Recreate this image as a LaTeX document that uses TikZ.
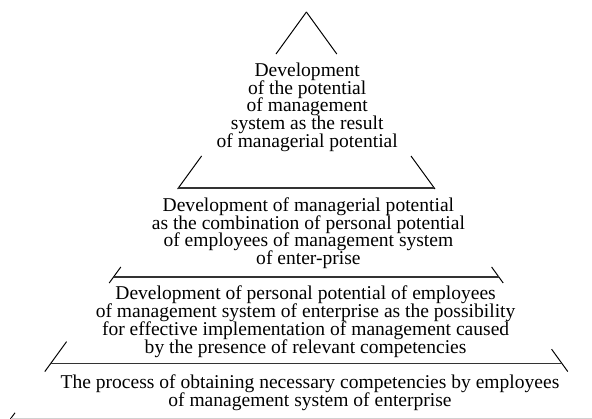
\documentclass[tikz,border=0pt]{standalone}
\usepackage{fontspec}
\setmainfont{Liberation Serif}
\newcommand\tierfont{\fontsize{13.9}{12.7}\selectfont\lineskiplimit=-20pt\relax}
\tikzset{edge/.style={draw,line width=0.7pt},
         level/.style={draw,line width=1pt,black!80},
         floor/.style={draw,line width=0.7pt,black!18},
         tier/.style={align=center,inner sep=0pt,font=\tierfont}}

\begin{document}
\begin{tikzpicture}
        \useasboundingbox (0,0) rectangle (14.8,-10.475);
        \coordinate (a) at (7.66,-0.30);
        \coordinate (l0) at (6.90,-1.35);
        \coordinate (r0) at (8.42,-1.35);
        \coordinate (l1a) at (5.04,-3.90);
        \coordinate (l1b) at (4.44,-4.725);
        \coordinate (r1a) at (10.275,-3.90);
        \coordinate (r1b) at (10.875,-4.725);
        \coordinate (l2a) at (3.02,-6.675);
        \coordinate (l2b) at (2.73,-7.075);
        \coordinate (r2a) at (12.29,-6.675);
        \coordinate (r2b) at (12.58,-7.075);
        \coordinate (l3a) at (1.665,-8.54);
        \coordinate (l3b) at (1.12,-9.29);
        \coordinate (r3a) at (13.79,-8.73);
        \coordinate (r3b) at (14.195,-9.29);
        \coordinate (l4a) at (0.375,-10.32);
        \coordinate (l4b) at (0.26,-10.475);

        \coordinate (h1l) at (4.46,-4.70);
        \coordinate (h1r) at (10.86,-4.70);
        \coordinate (h2l) at (2.84,-6.93);
        \coordinate (h2r) at (12.48,-6.93);
        \coordinate (h3l) at (1.27,-9.09);
        \coordinate (h3r) at (14.05,-9.09);
        \coordinate (h4l) at (0.28,-10.46);
        \coordinate (h4r) at (14.8,-10.46);

        \node[tier](t0)at(7.68,-2.68){Development\\of the potential\\of management\\system as the result\\of managerial potential};
        \node[tier](t1)at(7.71,-5.83){Development of managerial potential\\as the combination of personal potential\\of employees of management system\\of enter-prise};
        \node[tier](t2)at(7.64,-8.05){Development of personal potential of employees\\of management system of enterprise as the possibility\\for effective implementation of management caused\\by the presence of relevant competencies};
        \node[tier](t3)at(7.75,-9.81){The process of obtaining necessary competencies by employees\\of management system of enterprise};

        \draw[edge](a)--(l0);
        \draw[edge](a)--(r0);
        \draw[edge](l1a)--(l1b);
        \draw[edge](r1a)--(r1b);
        \draw[edge](l2a)--(l2b);
        \draw[edge](r2a)--(r2b);
        \draw[edge](l3a)--(l3b);
        \draw[edge](r3a)--(r3b);
        \draw[edge](l4a)--(l4b);

        \draw[level](h1l)--(h1r);
        \draw[level](h2l)--(h2r);
        \draw[level](h3l)--(h3r);
        \draw[floor](h4l)--(h4r);
    \end{tikzpicture}
\end{document}
